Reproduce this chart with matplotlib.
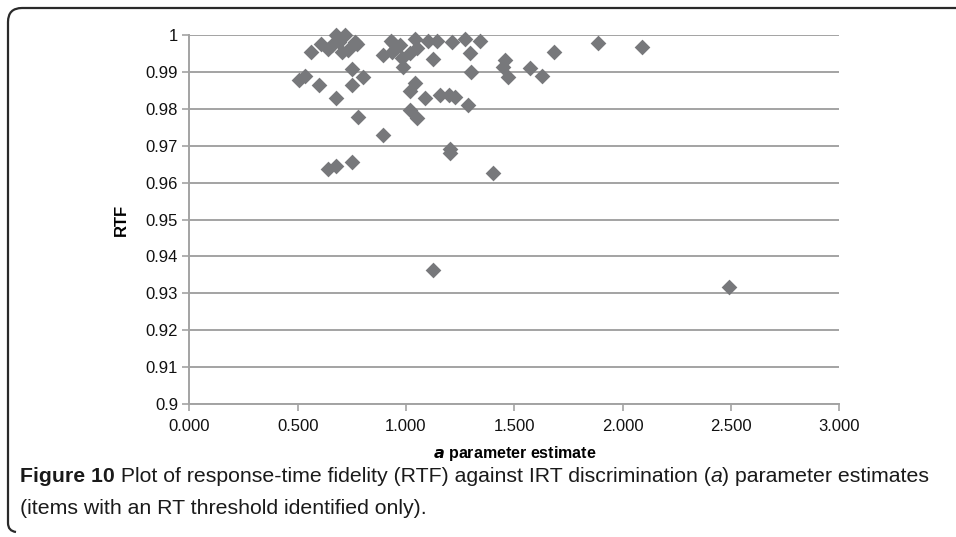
import matplotlib
import matplotlib.pyplot as plt
import numpy as np
from matplotlib.path import Path
from matplotlib.patches import PathPatch

matplotlib.use("Agg")

# ---------------------------------------------------------------------------
# Data (a estimate, RTF)
# ---------------------------------------------------------------------------
a_estimate = [
    0.508, 0.535, 0.562, 0.600, 0.610, 0.642, 0.642, 0.657, 0.675, 0.677,
    0.675, 0.690, 0.703, 0.718, 0.734, 0.749, 0.749, 0.749, 0.765, 0.775,
    0.780, 0.803, 0.895, 0.895, 0.930, 0.934, 0.941, 0.955, 0.972, 0.980,
    0.988, 1.019, 1.019, 1.019, 1.041, 1.049, 1.041, 1.049, 1.088, 1.103,
    1.126, 1.126, 1.142, 1.157, 1.200, 1.203, 1.203, 1.211, 1.226, 1.272,
    1.287, 1.295, 1.299, 1.341, 1.403, 1.449, 1.457, 1.470, 1.572, 1.626,
    1.683, 1.888, 2.091, 2.490,
]
rtf = [
    0.9878, 0.9890, 0.9955, 0.9864, 0.9976, 0.9636, 0.9962, 0.9972, 0.9828, 0.9645,
    1.0000, 0.9982, 0.9955, 1.0000, 0.9958, 0.9907, 0.9864, 0.9657, 0.9982, 0.9975,
    0.9779, 0.9886, 0.9729, 0.9946, 0.9984, 0.9955, 0.9978, 0.9965, 0.9972, 0.9937,
    0.9914, 0.9952, 0.9848, 0.9797, 0.9988, 0.9966, 0.9870, 0.9776, 0.9828, 0.9984,
    0.9935, 0.9363, 0.9984, 0.9837, 0.9837, 0.9690, 0.9679, 0.9980, 0.9831, 0.9988,
    0.9810, 0.9950, 0.9901, 0.9984, 0.9627, 0.9914, 0.9932, 0.9885, 0.9910, 0.9889,
    0.9955, 0.9979, 0.9967, 0.9317,
]

x_ticks = [0.0, 0.5, 1.0, 1.5, 2.0, 2.5, 3.0]
y_ticks = [0.90, 0.91, 0.92, 0.93, 0.94, 0.95, 0.96, 0.97, 0.98, 0.99, 1.00]
y_ticklabels = ["0.9", "0.91", "0.92", "0.93", "0.94", "0.95", "0.96",
                "0.97", "0.98", "0.99", "1"]

GRID = "#a3a3a3"
MARK = "#77787b"
TICK_FONT = ["Liberation Sans", "DejaVu Sans"]
CAP_FONT = ["Liberation Sans Narrow", "Liberation Sans", "DejaVu Sans"]

W, H = 956, 537
fig = plt.figure(figsize=(W / 100, H / 100), dpi=100)
fig.patch.set_facecolor("white")

ax = fig.add_axes([189.3 / W, 1 - 404 / H, 650 / W, 369 / H])
ax.scatter(a_estimate, rtf, marker="D", s=8 ** 2, color=MARK,
           linewidths=0, zorder=3, clip_on=False)

ax.set_xlim(0, 3)
ax.set_ylim(0.9, 1.0)
ax.set_xticks(x_ticks)
ax.set_xticklabels([f"{v:.3f}" for v in x_ticks], family=TICK_FONT, fontsize=12)
ax.set_yticks(y_ticks)
ax.set_yticklabels(y_ticklabels, family=TICK_FONT, fontsize=12)
ax.grid(axis="y", color=GRID, linewidth=1.4, zorder=1)
for side in ["top", "right"]:
    ax.spines[side].set_visible(False)
for side in ["left", "bottom"]:
    ax.spines[side].set_color(GRID)
    ax.spines[side].set_linewidth(1.4)
ax.tick_params(axis="both", color=GRID, width=1.2, length=5, labelcolor="#111111")
ax.tick_params(axis="x", pad=6)
ax.tick_params(axis="y", pad=3)

ax.set_ylabel("RTF", family=TICK_FONT, fontsize=12, fontweight="bold", labelpad=12)
ax.set_xlabel(r"$\bfit{a}$ parameter estimate", family=TICK_FONT, fontsize=11.5,
              fontweight="bold", labelpad=7)

# ---------------------------------------------------------------------------
# Frame around the figure (top line and rounded left edge)
# ---------------------------------------------------------------------------
r = 14
verts = [
    (W, 8), (8 + r, 8), (8, 8), (8, 8 + r), (8, H - 14), (8, H - 6), (16, H - 5),
]
codes = [Path.MOVETO, Path.LINETO, Path.CURVE3, Path.CURVE3, Path.LINETO,
         Path.CURVE3, Path.CURVE3]
verts = [(x / W, 1 - y / H) for x, y in verts]
fig.add_artist(PathPatch(Path(verts, codes), transform=fig.transFigure,
                         fill=False, edgecolor="#2a2a2a", linewidth=1.6))

# ---------------------------------------------------------------------------
# Caption, drawn piece by piece so bold / italic runs line up
# ---------------------------------------------------------------------------
fig.canvas.draw()
renderer = fig.canvas.get_renderer()


def put_run(pieces, x0, y0, size):
    x = x0
    for txt, weight, style in pieces:
        t = fig.text(x / W, 1 - y0 / H, txt, family=CAP_FONT, fontsize=size,
                     fontweight=weight, fontstyle=style, color="#1a1a1a",
                     va="baseline", ha="left")
        bb = t.get_window_extent(renderer)
        x += bb.width


cap_size = 15.3
put_run([("Figure 10", "bold", "normal"),
         (" Plot of response-time fidelity (RTF) against IRT discrimination (", "normal", "normal"),
         ("a", "normal", "italic"),
         (") parameter estimates", "normal", "normal")], 20, 482, cap_size)
put_run([("(items with an RT threshold identified only).", "normal", "normal")],
        20, 514, cap_size)

fig.savefig("out.png", dpi=100)
